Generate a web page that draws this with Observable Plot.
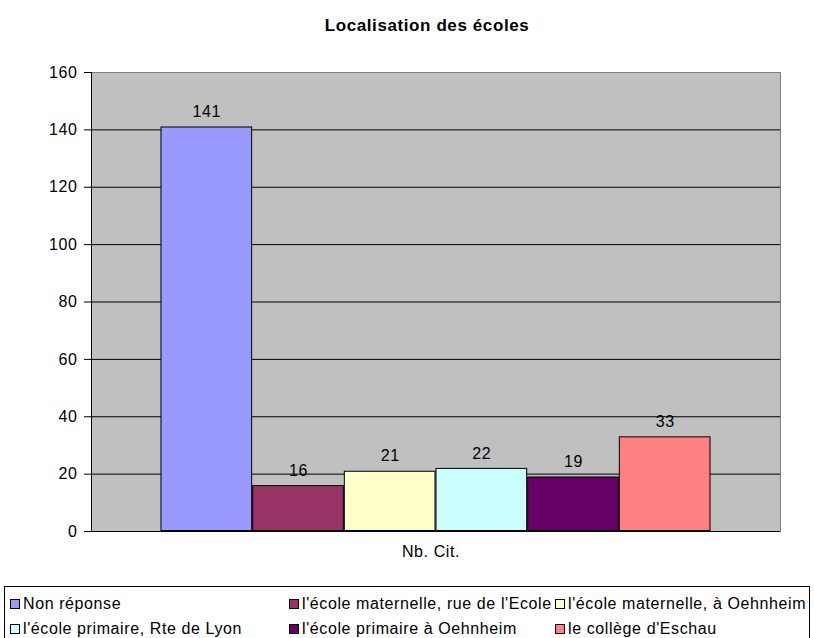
<!DOCTYPE html>
<html><head><meta charset="utf-8">
<script src="https://cdn.jsdelivr.net/npm/d3@7"></script>
<script src="https://cdn.jsdelivr.net/npm/@observablehq/plot@0.6"></script>
<style>
body{margin:0;background:#fff;font-family:"Liberation Sans",Arial,sans-serif;}
#wrap{position:relative;width:814px;height:638px;overflow:hidden;}
#legend{position:absolute;left:4px;top:586px;width:806px;height:60px;border:1px solid #000;box-sizing:border-box;background:#fff;}
.item{position:absolute;font-size:16px;line-height:18px;color:#000;white-space:nowrap;letter-spacing:0.6px;}
.sw{display:inline-block;width:8px;height:8px;border:1px solid #000;margin-right:3px;vertical-align:0px;}
svg text{letter-spacing:0.6px;}
</style></head>
<body><div id="wrap"><div id="chart"></div><div id="legend"></div></div>
<script>
const title = "Localisation des écoles";
const categoryLabel = "Nb. Cit.";
const series = ["Non réponse","l'école maternelle, rue de l'Ecole","l'école maternelle, à Oehnheim","l'école primaire, Rte de Lyon","l'école primaire à Oehnheim","le collège d'Eschau"];
const values = [141,16,21,22,19,33];
const colors = ["#9999FF","#993366","#FFFFCC","#CCFFFF","#660066","#FF8080"];
const yTicks = [0,20,40,60,80,100,120,140,160];

const data = series.map((s,i)=>({series:s,value:values[i]}));

const chart = Plot.plot({
  width:814, height:586,
  marginTop:72, marginBottom:55, marginLeft:91, marginRight:34,
  style:{fontFamily:"'Liberation Sans', Arial, sans-serif", fontSize:"16px", background:"#fff", color:"#000"},
  x:{type:"band", domain:series, paddingInner:0, paddingOuter:0.758, round:false, axis:null},
  y:{domain:[0,160], ticks:yTicks, label:null},
  color:{domain:series, range:colors},
  marks:[
    Plot.frame({fill:"#C0C0C0", stroke:"#808080"}),
    Plot.gridY(yTicks.filter(d=>d>0 && d<160), {stroke:"#000", strokeOpacity:1}),
    Plot.barY(data,{x:"series", y:"value", fill:"series", stroke:"#000", strokeWidth:1, inset:0.5}),
    Plot.ruleY([0],{stroke:"#000"}),
    Plot.frame({anchor:"left", stroke:"#000"}),
    Plot.axisY({ticks:yTicks, tickSize:7, tickPadding:7, label:null, fontSize:16}),
    Plot.text(data,{x:"series", y:"value", text:d=>String(d.value), dy:-15, fontSize:16, fill:"#000"}),
    Plot.text([categoryLabel],{frameAnchor:"bottom", dy:25, dx:-5, fontSize:16, fill:"#000"}),
    Plot.text([title],{frameAnchor:"top", dy:-54, dx:-9, fontSize:17, fontWeight:"bold", fill:"#000"})
  ]
});
document.getElementById("chart").appendChild(chart);

const pos = [[5,8],[284,8],[550,8],[5,33],[284,33],[550,33]];
const leg = document.getElementById("legend");
series.forEach((s,i)=>{
  const d=document.createElement("div");
  d.className="item";
  d.style.left=pos[i][0]+"px"; d.style.top=pos[i][1]+"px";
  d.innerHTML=`<span class="sw" style="background:${colors[i]}"></span>`;
  d.appendChild(document.createTextNode(s));
  leg.appendChild(d);
});
</script></body></html>
